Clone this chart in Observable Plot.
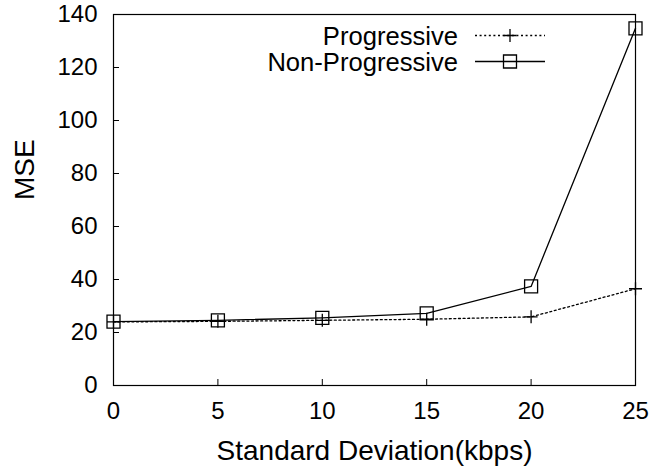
<!DOCTYPE html>
<html>
<head>
<meta charset="utf-8">
<script src="https://cdn.jsdelivr.net/npm/d3@7"></script>
<script src="https://cdn.jsdelivr.net/npm/@observablehq/plot@0.6"></script>
<style>
  html, body { margin: 0; padding: 0; background: #fff; }
  #wrap { position: relative; width: 656px; height: 467px; font-family: "Liberation Sans", Arial, sans-serif; }
  #wrap svg { position: absolute; left: 0; top: 0; }
</style>
</head>
<body>
<div id="wrap"></div>
<script>
// ---- data ----
const deviations = [0, 5, 10, 15, 20, 25];
const progressive = [24.0, 24.2, 24.6, 25.0, 25.9, 36.5];
const nonProgressive = [24.1, 24.6, 25.5, 27.2, 37.4, 134.8];
const seriesNames = ["Progressive", "Non-Progressive"];
const xTicks = [0, 5, 10, 15, 20, 25];
const yTicks = [0, 20, 40, 60, 80, 100, 120, 140];
const xLabel = "Standard Deviation(kbps)";
const yLabel = "MSE";

const rows = [];
deviations.forEach((d, i) => {
  rows.push({x: d, y: progressive[i], s: seriesNames[0]});
  rows.push({x: d, y: nonProgressive[i], s: seriesNames[1]});
});
const progRows = rows.filter(r => r.s === seriesNames[0]);
const nonRows = rows.filter(r => r.s === seriesNames[1]);

// custom thin symbols
const thinPlus = {
  draw(ctx, size) {
    const r = Math.sqrt(size / Math.PI);
    ctx.moveTo(-r, 0); ctx.lineTo(r, 0);
    ctx.moveTo(0, -r); ctx.lineTo(0, r);
  }
};
const openSquare = {
  draw(ctx, size) {
    const r = Math.sqrt(size / Math.PI);
    ctx.rect(-r, -r, 2 * r, 2 * r);
  }
};

const font = "'Liberation Sans', Arial, sans-serif";

const chart = Plot.plot({
  width: 656,
  height: 467,
  marginLeft: 113,
  marginRight: 21,
  marginTop: 14,
  marginBottom: 82,
  style: {fontFamily: font, fontSize: "24px", background: "white", color: "black"},
  x: {domain: [0, 25]},
  y: {domain: [0, 140]},
  marks: [
    Plot.frame({stroke: "black", strokeWidth: 1.2}),
    Plot.axisX(xTicks, {anchor: "bottom", tickSize: -6, tickPadding: 22, fontSize: 24, label: null, stroke: "black", fill: "black"}),
    Plot.axisY(yTicks, {anchor: "left", tickSize: -6, tickPadding: 22, fontSize: 24, label: null, stroke: "black", fill: "black"}),
    Plot.text([xLabel], {frameAnchor: "bottom", dy: 66, fontSize: 28, fill: "black", lineAnchor: "middle"}),
    Plot.text([yLabel], {frameAnchor: "left", dx: -88, rotate: -90, fontSize: 28, fill: "black", lineAnchor: "middle"}),
    Plot.line(progRows, {x: "x", y: "y", stroke: "black", strokeWidth: 1.3, strokeDasharray: "2,2.6"}),
    Plot.line(nonRows, {x: "x", y: "y", stroke: "black", strokeWidth: 1.3}),
    Plot.dot(progRows, {x: "x", y: "y", symbol: thinPlus, r: 6.5, stroke: "black", strokeWidth: 1.3, fill: "none"}),
    Plot.dot(nonRows, {x: "x", y: "y", symbol: openSquare, r: 6.5, stroke: "black", strokeWidth: 1.3, fill: "none"})
  ]
});
document.getElementById("wrap").appendChild(chart);

// ---- legend overlay ----
const leg = d3.select("#wrap").append("svg")
  .attr("width", 656).attr("height", 467)
  .style("pointer-events", "none");
const legRows = [
  {name: seriesNames[0], dash: "2,2.6", sym: "plus", cy: 35.5},
  {name: seriesNames[1], dash: null, sym: "square", cy: 61.5}
];
const textRight = 458, lineX1 = 475, lineX2 = 545, symX = 510;
legRows.forEach(r => {
  leg.append("text").text(r.name)
    .attr("x", textRight).attr("y", r.cy + 9)
    .attr("text-anchor", "end")
    .attr("font-family", font).attr("font-size", 25.6).attr("fill", "black");
  leg.append("line").attr("x1", lineX1).attr("x2", lineX2)
    .attr("y1", r.cy).attr("y2", r.cy)
    .attr("stroke", "black").attr("stroke-width", 1.3)
    .attr("stroke-dasharray", r.dash);
  const p = d3.path();
  if (r.sym === "plus") thinPlus.draw(p, 6.5 * 6.5 * Math.PI);
  else openSquare.draw(p, 6.5 * 6.5 * Math.PI);
  leg.append("path").attr("d", p.toString())
    .attr("transform", `translate(${symX},${r.cy})`)
    .attr("fill", "none").attr("stroke", "black").attr("stroke-width", 1.3);
});
</script>
</body>
</html>
